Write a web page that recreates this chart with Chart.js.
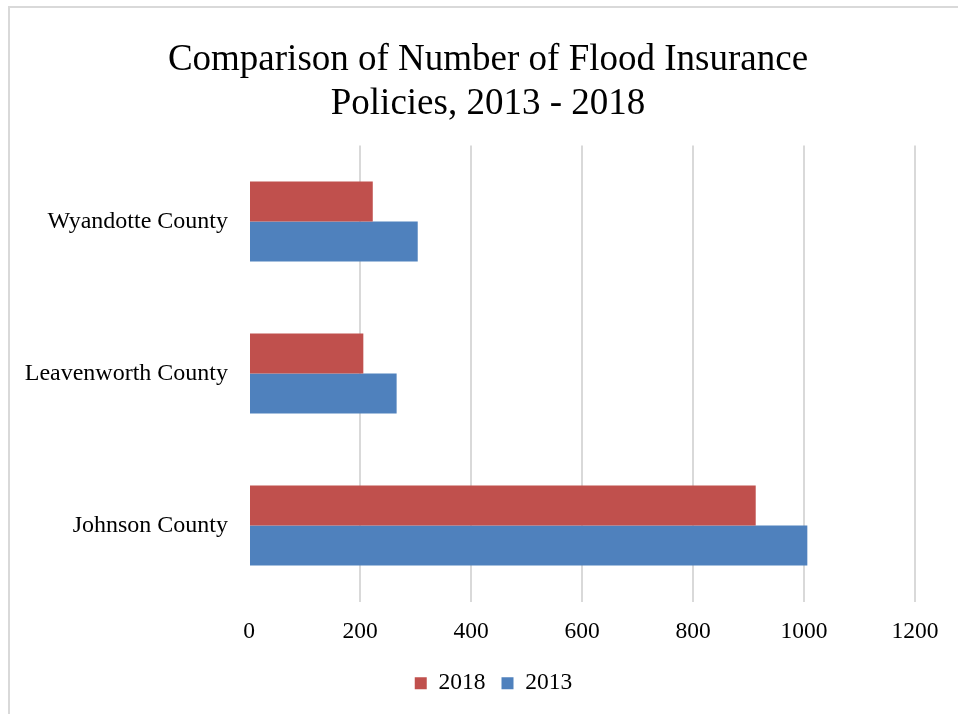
<!DOCTYPE html>
<html>
<head>
<meta charset="utf-8">
<script src="https://cdn.jsdelivr.net/npm/chart.js@4.4.1/dist/chart.umd.min.js"></script>
<style>
  html, body { margin: 0; padding: 0; background: #fff; overflow: hidden; }
  .frame { position: absolute; left: 8px; top: 6px; width: 1000px; height: 800px; border: 2px solid #d9d9d9; }
  .wrap { position: absolute; left: 0; top: 0; width: 958px; height: 714px; }
</style>
</head>
<body>
<div class="frame"></div>
<div class="wrap"><canvas id="floodChart"></canvas></div>
<script>
const counties = ['Wyandotte County', 'Leavenworth County', 'Johnson County'];
const policies2018 = [223, 206, 913];
const policies2013 = [304, 266, 1006];
const xTicks = [0, 200, 400, 600, 800, 1000, 1200];

const serif = 'Liberation Serif, "Times New Roman", serif';

// title and legend sit centred over the whole frame, not over the plot
const shiftHeader = {
    id: 'shiftHeader',
    afterLayout(chart) {
        if (chart.titleBlock) { chart.titleBlock.left = 61; chart.titleBlock.right = 915; }
        if (chart.legend) { chart.legend.left = 72; chart.legend.right = 915; }
    },
};

document.addEventListener('DOMContentLoaded', () => {
    const ctx = document.getElementById('floodChart').getContext('2d');

    new Chart(ctx, {
        type: 'bar',
        data: {
            labels: counties,
            datasets: [
                {
                    label: '2018',
                    data: policies2018,
                    backgroundColor: '#c0504d',
                    categoryPercentage: 0.526,
                    barPercentage: 1,
                },
                {
                    label: '2013',
                    data: policies2013,
                    backgroundColor: '#4f81bd',
                    categoryPercentage: 0.526,
                    barPercentage: 1,
                },
            ],
        },
        options: {
            indexAxis: 'y',
            responsive: true,
            maintainAspectRatio: false,
            animation: false,
            layout: { padding: { left: 10, right: 43, top: 0, bottom: 9 } },
            plugins: {
                title: {
                    display: true,
                    text: ['Comparison of Number of Flood Insurance', 'Policies, 2013 - 2018'],
                    color: '#000',
                    font: { family: serif, size: 37, weight: 'normal', lineHeight: 1.17 },
                    padding: { top: 39, bottom: 20 },
                },
                legend: {
                    position: 'bottom',
                    labels: {
                        boxWidth: 12,
                        boxHeight: 12,
                        padding: 16,
                        color: '#000',
                        font: { family: serif, size: 23.5 },
                    },
                },
                tooltip: { enabled: false },
            },
            scales: {
                x: {
                    min: 0,
                    max: 1200,
                    afterBuildTicks: (scale) => { scale.ticks = xTicks.map(v => ({ value: v })); },
                    afterFit: (scale) => { scale.height = 54; },
                    grid: {
                        color: (c) => (c.tick && c.tick.value === 0 ? 'rgba(0,0,0,0)' : '#d9d9d9'),
                        lineWidth: 2,
                        drawTicks: false,
                    },
                    border: { display: false },
                    ticks: {
                        padding: 16,
                        color: '#000',
                        font: { family: serif, size: 23.5 },
                        callback: (v) => String(v),
                    },
                },
                y: {
                    afterFit: (scale) => { scale.width = 239; },
                    grid: { display: false, drawTicks: false },
                    border: { display: false },
                    ticks: { padding: 21, color: '#000', font: { family: serif, size: 24 } },
                },
            },
        },
        plugins: [shiftHeader],
    });
});
</script>
</body>
</html>
